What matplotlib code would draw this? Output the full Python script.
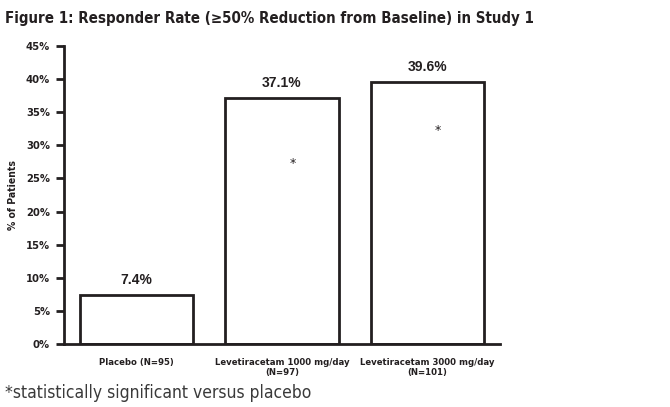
import matplotlib
matplotlib.use("Agg")
import matplotlib.pyplot as plt

# data
groups = ["Placebo (N=95)", "Levetiracetam 1000 mg/day\n(N=97)", "Levetiracetam 3000 mg/day\n(N=101)"]
rates = [7.4, 37.1, 39.6]
labels = ["7.4%", "37.1%", "39.6%"]
signif = [False, True, True]
star_y = [0, 27.3, 32.3]
yticks = [0, 5, 10, 15, 20, 25, 30, 35, 40, 45]

dark = '#231f20'
cond = dict(family='DejaVu Sans', stretch='condensed')

fig = plt.figure(figsize=(6.7, 4.07), dpi=100)
ax = fig.add_axes([0.0955, 0.155, 0.6505, 0.732])

x = range(len(groups))
ax.bar(x, rates, width=0.78, color='white', edgecolor=dark, linewidth=2)

for i, r in enumerate(rates):
    ax.text(i, r + 1.2, labels[i], ha='center', va='bottom', fontsize=10,
            fontweight='bold', color=dark, family='Liberation Sans')
    if signif[i]:
        ax.text(i + 0.075, star_y[i], "*", ha='center', va='center', fontsize=9, color=dark)

ax.set_xlim(-0.5, 2.5)
ax.set_ylim(0, 45)
ax.set_yticks(yticks)
ax.set_yticklabels([str(t) + "%" for t in yticks], fontweight='bold', fontsize=8, color=dark, **cond)
ax.set_xticks(list(x))
ax.set_xticklabels(groups, fontweight='bold', fontsize=6.8, color=dark, linespacing=1.15, **cond)
ax.tick_params(axis='x', length=0, pad=10)
ax.tick_params(axis='y', length=6, width=2, color=dark, pad=4)
ax.spines['top'].set_visible(False)
ax.spines['right'].set_visible(False)
ax.spines['left'].set_linewidth(2)
ax.spines['bottom'].set_linewidth(2)
ax.spines['left'].set_color(dark)
ax.spines['bottom'].set_color(dark)
ax.set_ylabel("% of Patients", fontweight='bold', fontsize=7.5, color=dark, labelpad=6, **cond)

fig.text(0.008, 0.955, "Figure 1: Responder Rate (\u226550% Reduction from Baseline) in Study 1",
         fontweight='bold', fontsize=10.8, color=dark, va='center', **cond)
fig.text(0.008, 0.035, "*statistically significant versus placebo",
         fontsize=12.5, color='#3a3a3a', va='center', **cond)

fig.savefig("out.png", dpi=100)
